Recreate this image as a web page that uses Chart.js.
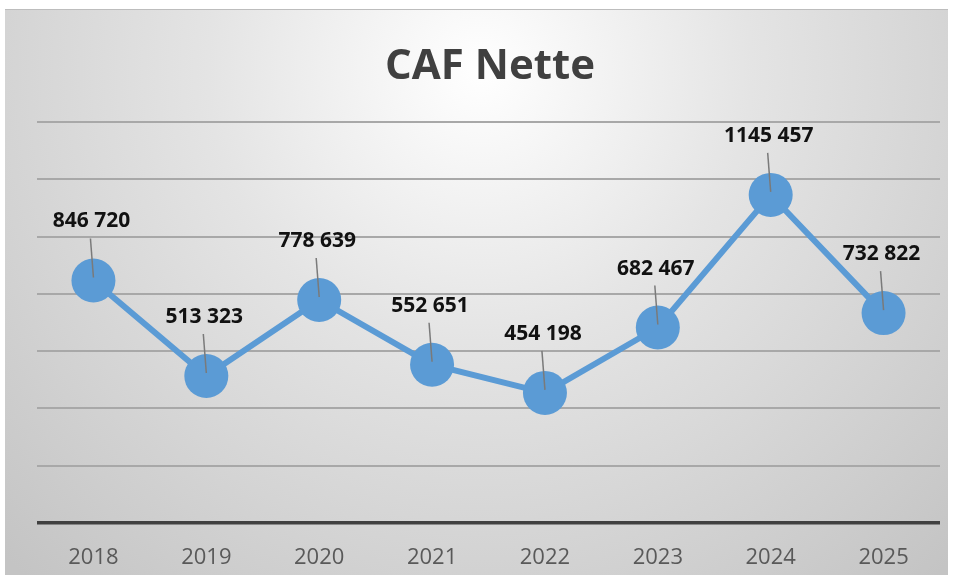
<!DOCTYPE html>
<html>
<head>
<meta charset="utf-8">
<style>
  html, body { margin: 0; padding: 0; background: #fff; }
  #wrap { width: 955px; height: 575px; }
</style>
<script src="https://cdn.jsdelivr.net/npm/chart.js@4"></script>
</head>
<body>
<div id="wrap"><canvas id="myChart" width="955" height="575"></canvas></div>
<script>
// données
var annees = ['2018', '2019', '2020', '2021', '2022', '2023', '2024', '2025'];
var cafNette = [846720, 513323, 778639, 552651, 454198, 682467, 1145457, 732822];
var titre = 'CAF Nette';

// format comme dans le tableur : "1145 457"
function formatNombre(v) {
    var milliers = Math.floor(v / 1000);
    var reste = String(v % 1000).padStart(3, '0');
    return milliers + ' ' + reste;
}

// fond dégradé + titre
var fondPlugin = {
    id: 'fond',
    beforeDraw: function (chart) {
        var c = chart.ctx;
        c.save();
        c.fillStyle = '#ffffff';
        c.fillRect(0, 0, chart.width, chart.height);
        var g = c.createRadialGradient(480, 70, 0, 480, 70, 680);
        g.addColorStop(0, '#ffffff');
        g.addColorStop(0.4, '#e4e4e4');
        g.addColorStop(1, '#c4c4c4');
        c.fillStyle = g;
        c.fillRect(5, 9, 943, 566);
        c.fillStyle = '#bdbdbd';
        c.fillRect(5, 9, 943, 1);
        c.restore();
    },
    afterDraw: function (chart) {
        var c = chart.ctx;
        c.save();
        c.fillStyle = '#404040';
        c.font = 'bold 42px "Open Sans"';
        c.textAlign = 'center';
        c.textBaseline = 'alphabetic';
        c.fillText(titre, 490, 79);
        c.restore();
    }
};

// étiquettes avec traits de rappel
var etiquettesPlugin = {
    id: 'etiquettes',
    afterDatasetsDraw: function (chart) {
        var c = chart.ctx;
        var meta = chart.getDatasetMeta(0);
        c.save();
        meta.data.forEach(function (pt, i) {
            c.strokeStyle = '#7a7a7a';
            c.lineWidth = 1.5;
            c.beginPath();
            c.moveTo(pt.x - 3, pt.y - 42);
            c.lineTo(pt.x, pt.y - 3);
            c.stroke();
            c.fillStyle = '#111111';
            c.font = 'bold 21px "Open Sans"';
            c.textAlign = 'center';
            c.textBaseline = 'alphabetic';
            c.fillText(formatNombre(cafNette[i]), pt.x - 2, pt.y - 53);
        });
        c.restore();
    }
};

new Chart(document.getElementById('myChart').getContext('2d'), {
    type: 'line',
    data: {
        labels: annees,
        datasets: [{
            label: titre,
            data: cafNette,
            borderColor: '#5b9bd5',
            backgroundColor: '#5b9bd5',
            borderWidth: 6,
            pointRadius: 22,
            pointHoverRadius: 22,
            pointBorderWidth: 0,
            tension: 0,
            clip: false
        }]
    },
    options: {
        responsive: false,
        animation: false,
        events: [],
        layout: { autoPadding: false, padding: { left: 37, right: 15, top: 122, bottom: 0 } },
        plugins: {
            legend: { display: false },
            title: { display: false },
            tooltip: { enabled: false }
        },
        scales: {
            x: {
                offset: true,
                grid: { display: false },
                border: { display: false },
                ticks: {
                    color: '#595959',
                    font: { family: 'Open Sans', size: 22 },
                    padding: 14
                },
                afterFit: function (s) {
                    s.height = 52;
                    s.paddingLeft = 0;
                    s.paddingRight = 0;
                }
            },
            y: {
                min: 0,
                max: 1400000,
                border: { display: false },
                ticks: { display: false, stepSize: 200000 },
                grid: {
                    drawTicks: false,
                    color: function (ctx) { return ctx.tick.value === 0 ? '#404040' : '#a8a8a8'; },
                    lineWidth: function (ctx) { return ctx.tick.value === 0 ? 3.5 : 2; }
                },
                afterFit: function (s) { s.width = 0; }
            }
        }
    },
    plugins: [fondPlugin, etiquettesPlugin]
});
</script>
</body>
</html>
